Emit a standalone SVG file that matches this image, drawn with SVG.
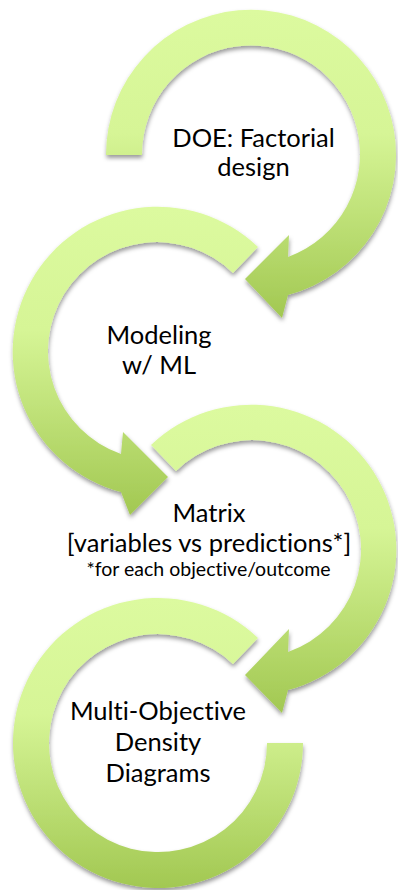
<svg xmlns="http://www.w3.org/2000/svg" width="398" height="890" viewBox="0 0 398 890">
<defs>
<linearGradient id="g" x1="0" y1="0" x2="0" y2="1">
<stop offset="0" stop-color="#DCFA9F"/>
<stop offset="0.4" stop-color="#D6F596"/>
<stop offset="1" stop-color="#A2C852"/>
</linearGradient>
<filter id="sh" x="-10%" y="-10%" width="120%" height="125%">
<feDropShadow dx="0.5" dy="3" stdDeviation="2" flood-color="#000" flood-opacity="0.4"/>
</filter>
<style>
.arr{fill:url(#g);filter:url(#sh)}
text{font-family:Lato,"Liberation Sans",sans-serif;fill:#000;text-anchor:middle;font-variant-ligatures:none}
.big{font-size:25.5px}
.small{font-size:19.5px}
</style>
</defs>
<rect width="398" height="890" fill="#fff"/>
<g id="connectors">
<path id="arrow1" class="arr" d="M106,155 A145,145 0 1 1 288,295 L282,318 L245,279 L289,235 L288,257 A109,109 0 1 0 142,155 Z"/>
<path id="arrow2" class="arr" d="M258,247 A145,145 0 1 0 121,492 L130,515 L168,477 L123,432 L121,454 A109,109 0 1 1 233,273 Z"/>
<path id="arrow3" class="arr" d="M151,445 A145,145 0 1 1 288,690 L282,713 L245,675 L289,629 L288,652 A109,109 0 1 0 176,471 Z"/>
<path id="arrow4" class="arr" d="M258,638 A145,145 0 1 0 303,743 L267,743 A109,109 0 1 1 233,664 Z"/>
</g>
<g id="node1">
<text class="big" x="253.5" y="147">DOE: Factorial</text>
<text class="big" x="253.5" y="176">design</text>
</g>
<g id="node2">
<text class="big" x="159" y="344">Modeling</text>
<text class="big" x="159" y="374">w/ ML</text>
</g>
<g id="node3">
<text class="big" x="209" y="522">Matrix</text>
<text class="big" x="209" y="552">[variables vs predictions*]</text>
<text class="small" x="208.5" y="576">*for each objective/outcome</text>
</g>
<g id="node4">
<text class="big" x="158" y="720">Multi-Objective</text>
<text class="big" x="158" y="751">Density</text>
<text class="big" x="158" y="782">Diagrams</text>
</g>
</svg>
